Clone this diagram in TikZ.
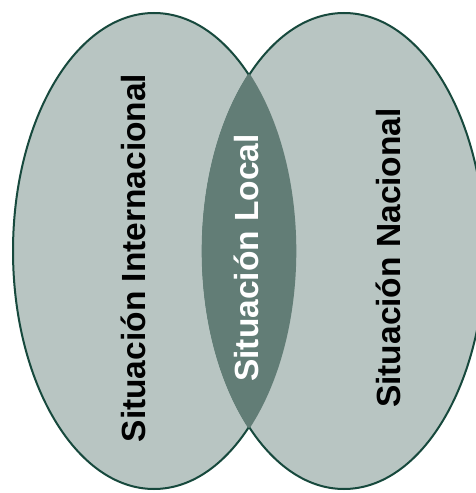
\documentclass[tikz,border=0pt]{standalone}
\usepackage{fontspec}
\setmainfont{Liberation Sans}
\definecolor{lightfill}{HTML}{B8C5C2}
\definecolor{lensfill}{HTML}{627D76}
\definecolor{edge}{HTML}{17493D}
\begin{document}
\begin{tikzpicture}[x=1pt,y=1pt,
  set/.style={fill=lightfill,draw=edge,line width=2pt},
  label/.style={rotate=90,anchor=base,inner sep=0pt,font=\fontsize{33.5}{40}\selectfont\bfseries}]
\useasboundingbox (0,0) rectangle (476,493);
\fill[white] (0,0) rectangle (476,493);
\begin{scope}
\clip (0,0) rectangle (476,493);
\path[set] (154,242) ellipse (141 and 238);
\path[set] (344,242) ellipse (141 and 238);
\begin{scope}
\clip (154,242) ellipse (141 and 238);
\filldraw[fill=lensfill,draw=lensfill,line width=2.6pt] (344,242) ellipse (141 and 238);
\end{scope}
\begin{scope}
\clip (344,242) ellipse (141 and 238);
\draw[draw=lensfill,line width=2.6pt] (154,242) ellipse (141 and 238);
\end{scope}
\end{scope}
\node[label,text=black] (intl) at (145,235) {Situación Internacional};
\node[label,text=white] (local) at (258,235) {Situación Local};
\node[label,text=black] (nac) at (400,235) {Situación Nacional};
\end{tikzpicture}
\end{document}
